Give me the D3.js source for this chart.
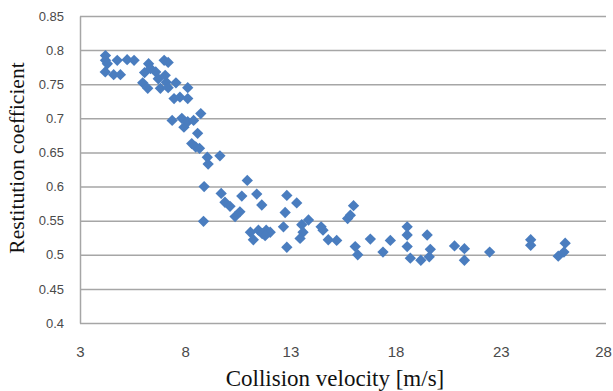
<!DOCTYPE html>
<html>
<head>
<meta charset="utf-8">
<script src="https://cdn.jsdelivr.net/npm/d3@7"></script>
<style>
  body { margin: 0; background: #fff; }
  svg { display: block; }
</style>
</head>
<body>
<div id="chart"></div>
<script>
// Collision velocity [m/s]
const velocity = [
  4.21, 4.21, 4.3, 4.2, 4.6, 4.77, 4.92, 5.24, 5.57,
  5.98, 6.22, 6.07, 6.26, 6.35, 6.6, 6.72, 6.82, 7.0, 7.19, 7.1, 7.19, 7.05,
  7.56, 7.47, 7.75, 8.12, 8.12, 7.38, 7.84, 7.94, 8.12, 8.4, 8.74,
  8.59, 8.31, 8.5, 8.68, 9.05, 9.09, 9.65, 8.9, 8.87,
  9.71, 9.89, 10.13, 10.37, 10.6, 10.69, 10.95, 11.4, 11.64,
  11.24, 11.1, 11.48, 11.66, 11.85, 12.04, 11.8,
  12.83, 12.75, 12.67, 12.83, 13.3, 13.54, 13.6, 13.46, 13.86,
  14.46, 14.55, 14.8, 15.2, 15.72, 15.85, 16.0,
  16.08, 16.2, 16.8, 17.4, 17.75,
  18.55, 18.55, 18.55, 18.7, 19.2, 19.5, 19.65, 19.6,
  20.8, 21.27, 21.27, 22.47, 24.42, 24.42, 25.73, 26.0, 26.06
];
// Restitution coefficient
const restitution = [
  0.792, 0.785, 0.78, 0.768, 0.764, 0.785, 0.764, 0.786, 0.785,
  0.752, 0.744, 0.767, 0.78, 0.773, 0.768, 0.758, 0.744, 0.785, 0.782, 0.753, 0.745, 0.763,
  0.752, 0.729, 0.731, 0.745, 0.729, 0.697, 0.7, 0.687, 0.695, 0.697, 0.707,
  0.678, 0.663, 0.658, 0.656, 0.643, 0.633, 0.645, 0.6, 0.549,
  0.59, 0.577, 0.571, 0.556, 0.563, 0.586, 0.609, 0.589, 0.573,
  0.522, 0.533, 0.536, 0.531, 0.536, 0.533, 0.528,
  0.587, 0.562, 0.541, 0.511, 0.576, 0.544, 0.533, 0.524, 0.551,
  0.541, 0.536, 0.522, 0.521, 0.553, 0.558, 0.572,
  0.512, 0.5, 0.523, 0.504, 0.521,
  0.541, 0.529, 0.512, 0.495, 0.492, 0.529, 0.508, 0.497,
  0.513, 0.509, 0.492, 0.504, 0.522, 0.514, 0.498, 0.504, 0.517
];
const xTicks = [3, 8, 13, 18, 23, 28];
const yTicks = [0.4, 0.45, 0.5, 0.55, 0.6, 0.65, 0.7, 0.75, 0.8, 0.85];
const xTitle = 'Collision velocity [m/s]';
const yTitle = 'Restitution coefficient';

const W = 613, H = 391;
const margin = { top: 16, right: 7, bottom: 68, left: 80 };
const width = W - margin.left - margin.right;
const height = H - margin.top - margin.bottom;

const svg = d3.select('#chart').append('svg')
  .attr('width', W)
  .attr('height', H);

const g = svg.append('g')
  .attr('transform', `translate(${margin.left},${margin.top})`);

const x = d3.scaleLinear().domain([3, 28]).range([0, width]);
const y = d3.scaleLinear().domain([0.4, 0.85]).range([height, 0]);

// y axis with horizontal gridlines
const yAxis = g.append('g')
  .call(d3.axisLeft(y)
    .tickValues(yTicks)
    .tickSize(-width)
    .tickSizeOuter(0)
    .tickPadding(16)
    .tickFormat(d => String(+d.toFixed(2))));
yAxis.select('.domain').attr('stroke', '#a6a6a6').attr('stroke-width', 1.5);
yAxis.selectAll('.tick line').attr('stroke', '#a6a6a6').attr('stroke-width', 1.5);
yAxis.selectAll('.tick text')
  .attr('fill', '#4a4a4a')
  .style('font-family', 'Liberation Sans, Arial, sans-serif')
  .style('font-size', '13px');

// x axis labels only
const xAxis = g.append('g')
  .attr('transform', `translate(0,${height})`)
  .call(d3.axisBottom(x)
    .tickValues(xTicks)
    .tickSize(0)
    .tickPadding(23)
    .tickFormat(d3.format('d')));
xAxis.select('.domain').remove();
xAxis.selectAll('.tick text')
  .attr('fill', '#4a4a4a')
  .style('font-family', 'Liberation Sans, Arial, sans-serif')
  .style('font-size', '15px');
// keep the last label inside the page edge
xAxis.selectAll('.tick text').filter(d => d === 28).attr('dx', -3);

// points
const points = velocity.map((v, i) => ({ v, e: restitution[i] }));
const diamond = d3.symbol().type(d3.symbolSquare).size(64);
g.append('g')
  .selectAll('path')
  .data(points)
  .join('path')
  .attr('d', diamond)
  .attr('transform', d => `translate(${x(d.v)},${y(d.e)}) rotate(45)`)
  .attr('fill', '#4a7dbf');

// axis titles
svg.append('text')
  .attr('x', 335)
  .attr('y', 386)
  .attr('text-anchor', 'middle')
  .style('font-family', 'Liberation Serif, Times New Roman, serif')
  .style('font-size', '23px')
  .attr('fill', '#111')
  .text(xTitle);

svg.append('text')
  .attr('transform', 'translate(24,158) rotate(-90)')
  .attr('text-anchor', 'middle')
  .style('font-family', 'Liberation Serif, Times New Roman, serif')
  .style('font-size', '21.5px')
  .attr('fill', '#111')
  .text(yTitle);
</script>
</body>
</html>
